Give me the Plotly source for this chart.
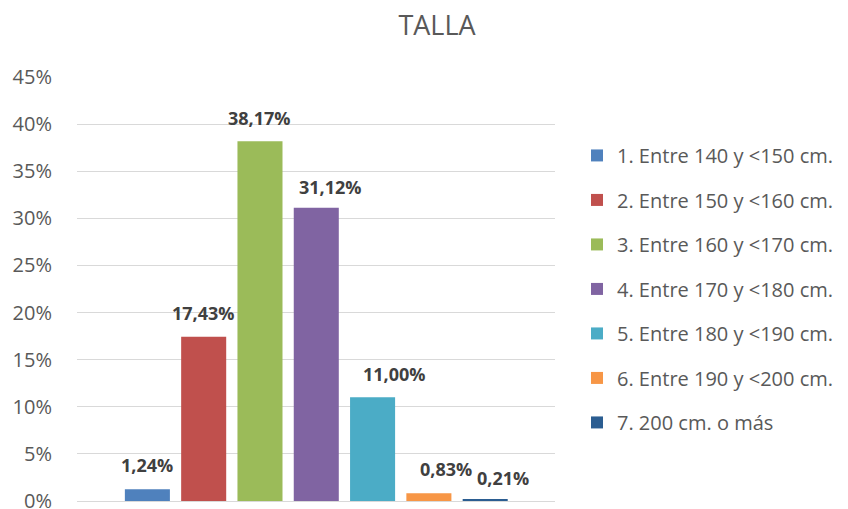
import plotly.graph_objects as go

categories = [
    "1. Entre 140 y <150 cm.",
    "2. Entre 150 y <160 cm.",
    "3. Entre 160 y <170 cm.",
    "4. Entre 170 y <180 cm.",
    "5. Entre 180 y <190 cm.",
    "6. Entre 190 y <200 cm.",
    "7. 200 cm. o más",
]
values = [1.24, 17.43, 38.17, 31.12, 11.00, 0.83, 0.21]
value_labels = ["1,24%", "17,43%", "38,17%", "31,12%", "11,00%", "0,83%", "0,21%"]
colors = ["#4F81BD", "#C0504D", "#9BBB59", "#8064A2", "#4BACC6", "#F79646", "#2B5D91"]

# label nudges (style only)
label_dx = [0, 0, 0, 14, 22, 17, 18]
label_dy = [24, 24, 23, 21, 23, 24, 21]

FONT = "Open Sans"
fig = go.Figure()
for i, (cat, val, col) in enumerate(zip(categories, values, colors)):
    fig.add_trace(go.Bar(
        x=[cat], y=[val], name=cat, marker=dict(color=col, line=dict(width=0)),
        legendgroup=f"g{i}", hoverinfo="skip",
    ))
    fig.add_annotation(
        x=cat, y=val, text=f"<b>{value_labels[i]}</b>", showarrow=False,
        xanchor="center", yanchor="middle", xshift=label_dx[i], yshift=label_dy[i],
        font=dict(family=FONT, size=18, color="#404040"),
    )

W, H = 840, 501
fig.update_layout(
    width=W, height=H,
    margin=dict(l=69, r=293, t=69, b=8, autoexpand=False),
    paper_bgcolor="white", plot_bgcolor="white",
    barmode="overlay", bargap=0.2,
    font=dict(family=FONT, color="#595959"),
    title=dict(text="TALLA", x=429 / W, xref="container", xanchor="center",
               y=1, yref="container", yanchor="top", pad=dict(t=8),
               font=dict(family=FONT, size=27, color="#595959")),
    legend=dict(x=1.046, xanchor="left", y=0.861, yanchor="top",
                font=dict(family=FONT, size=20, color="#595959"),
                tracegroupgap=15.5, traceorder="grouped", itemwidth=30,
                bgcolor="rgba(0,0,0,0)"),
    showlegend=True,
)
fig.update_xaxes(
    categoryorder="array", categoryarray=categories,
    range=[-1.25, 7.24], showticklabels=False, showgrid=False, zeroline=False,
    showline=False, ticks="",
)
fig.update_yaxes(
    range=[0, 45], dtick=5, ticksuffix="%", showgrid=True, gridcolor="#D9D9D9",
    gridwidth=1, zeroline=True, zerolinecolor="#D9D9D9", zerolinewidth=1,
    showline=False, ticks="outside", ticklen=20, tickcolor="rgba(0,0,0,0)",
    ticklabeloverflow="allow",
    tickfont=dict(family=FONT, size=20, color="#595959"),
)
fig.write_html("out.html")
